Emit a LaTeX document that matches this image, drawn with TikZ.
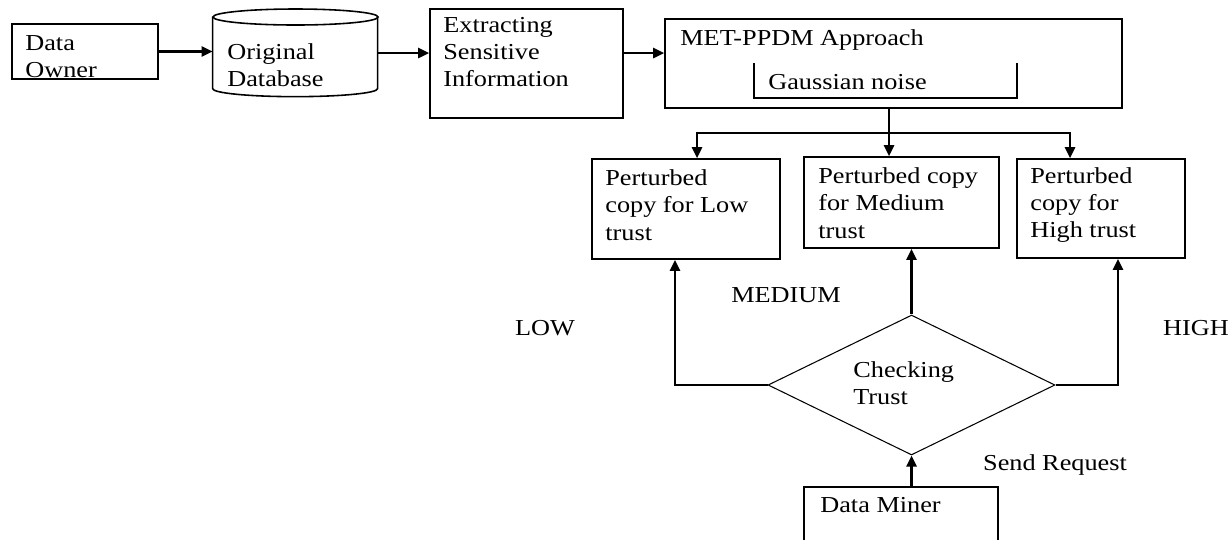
\documentclass[tikz,border=0pt]{standalone}
\usepackage{fontspec}
\setmainfont[FakeStretch=1.15]{Liberation Serif}
\usetikzlibrary{arrows.meta,fit,shapes.geometric}

\begin{document}
\begin{tikzpicture}
[
    x=0.02cm, y=-0.02cm,
    font=\fontsize{13}{15.5}\selectfont,
    box/.style={draw, line width=0.9pt, inner sep=0pt},
    txt/.style={align=left, inner sep=0pt, anchor=west},
    link/.style={line width=1.4pt, -{Triangle[length=2.2mm, width=2mm]}},
    plain/.style={line width=1.4pt},
]
\useasboundingbox (0,0) rectangle (1228,539);
% top row
\node[box, fit={(12,24) (158,79)}] (owner) {};
\node[txt] (ownertxt) at (25,57) {Data\\Owner};
\node[fit={(213,9) (378,97)}, inner sep=0pt] (db) {};
\draw[line width=0.9pt] (db.north west) ++(0,8) -- ++(0,72)
    arc[start angle=180, end angle=0, x radius=82.5, y radius=8] -- ++(0,-72);
\draw[line width=0.9pt] (295.5,17) ellipse[x radius=82.5, y radius=8];
\node[txt] (dbtxt) at (227,65) {Original\\Database};
\node[box, fit={(430,9) (623,118)}] (extract) {};
\node[txt] (extracttxt) at (443,52) {Extracting\\Sensitive\\Information};
\node[box, fit={(665,19) (1122,108)}] (met) {};
\node[txt] (mettxt) at (680,40) {MET-PPDM Approach};
\draw[line width=0.8pt] (754,63) -- (754,98) -- (1017,98) -- (1017,63);
\node[txt] (noise) at (768,82) {Gaussian noise};
\draw[link] (owner.east) -- (owner.east -| db.west);
\draw[link] (db.east) -- (db.east -| extract.west);
\draw[link] (extract.east |- db.east) -- (met.west |- db.east);
% perturbed copies
\node[box, fit={(592,159) (780,259)}] (low) {};
\node[txt] (lowtxt) at (605,205) {Perturbed\\copy for Low\\trust};
\node[box, fit={(804,157) (999,248)}] (med) {};
\node[txt] (medtxt) at (818,203) {Perturbed copy\\for Medium\\trust};
\node[box, fit={(1017,159) (1185,258)}] (high) {};
\node[txt] (hightxt) at (1030,205) {Perturbed\\copy for\\High trust};
\coordinate (split) at (889,133);
\coordinate (lowin) at (697,133);
\coordinate (highin) at (1070,133);
\draw[plain] (split |- met.south) -- (split);
\draw[link] (split) -- (split |- med.north);
\draw[link] (split) -- (lowin) -- (lowin |- low.north);
\draw[link] (split) -- (highin) -- (highin |- high.north);
% trust check
\node[draw, diamond, line width=0.6pt, minimum width=5.74cm, minimum height=2.8cm, inner sep=0pt] (check) at (911.5,385) {};
\node[txt] (checktxt) at (853,383) {Checking\\Trust};
\coordinate (lowbend) at (675,385);
\coordinate (highbend) at (1118,385);
\draw[link] (check.west) -- (lowbend) -- (lowbend |- low.south);
\draw[link] (check.east) -- (highbend) -- (highbend |- high.south);
\draw[link] (check.north) -- (check.north |- med.south);
\node[box, fit={(804,487) (998,560)}] (miner) {};
\node[txt] (minertxt) at (820,505) {Data Miner};
\draw[link] (check.south |- miner.north) -- (check.south);
% labels
\node (lowlbl) at (545,328) {LOW};
\node (medlbl) at (786,295) {MEDIUM};
\node (highlbl) at (1196,328) {HIGH};
\node (sendlbl) at (1055,465) {Send Request};
\end{tikzpicture}
\end{document}
